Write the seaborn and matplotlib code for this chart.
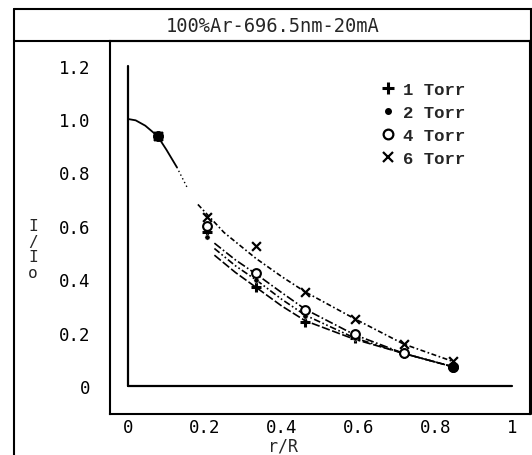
import matplotlib
matplotlib.use("Agg")
import matplotlib.pyplot as plt
from matplotlib.lines import Line2D
import seaborn as sns
import pandas as pd

# ---------------- data ----------------
title = "100%Ar-696.5nm-20mA"
series_labels = ["1 Torr", "2 Torr", "4 Torr", "6 Torr"]

# measured points
r_pts = [0.077, 0.205, 0.333, 0.462, 0.590, 0.718, 0.846]
pts_1torr = [0.936, 0.578, 0.370, 0.241, 0.178, 0.122, 0.072]
pts_2torr = [0.936, 0.558, 0.398, 0.263, 0.180, 0.122, 0.072]
pts_4torr = [0.936, 0.600, 0.423, 0.285, 0.193, 0.122, 0.072]
pts_6torr = [0.936, 0.632, 0.525, 0.352, 0.252, 0.157, 0.092]

# fitted curves
r_common = [0.0, 0.02, 0.045, 0.077, 0.10, 0.127]
curve_common = [1.0, 0.995, 0.975, 0.936, 0.885, 0.820]
r_common_dot = [0.127, 0.156]
curve_common_dot = [0.820, 0.738]

r_fit = [0.225, 0.28, 0.333, 0.40, 0.462, 0.59, 0.718, 0.846]
fit_1torr = [0.490, 0.425, 0.370, 0.300, 0.244, 0.175, 0.122, 0.072]
fit_2torr = [0.515, 0.450, 0.398, 0.325, 0.265, 0.180, 0.122, 0.072]
fit_4torr = [0.535, 0.472, 0.420, 0.350, 0.287, 0.192, 0.122, 0.072]
r_fit6 = [0.182, 0.25, 0.333, 0.40, 0.462, 0.59, 0.718, 0.846]
fit_6torr = [0.680, 0.575, 0.478, 0.410, 0.352, 0.252, 0.157, 0.092]

x_ticks = [0, 0.2, 0.4, 0.6, 0.8, 1.0]
x_ticklabels = ["0", "0.2", "0.4", "0.6", "0.8", "1"]
y_ticks = [0, 0.2, 0.4, 0.6, 0.8, 1.0, 1.2]
y_ticklabels = ["0", "0.2", "0.4", "0.6", "0.8", "1.0", "1.2"]

# ---------------- figure ----------------
sns.set_style("white")
plt.rcParams["font.family"] = ["DejaVu Sans Mono", "DejaVu Sans"]

W, H = 532, 456
fig = plt.figure(figsize=(W / 100, H / 100), dpi=100)
fig.patch.set_facecolor("white")

def fx(px):
    return px / W

def fy(py):
    return 1 - py / H

ax = fig.add_axes([fx(110), fy(415), fx(530) - fx(110), fy(42) - fy(415)])
ax.set_facecolor("white")

# x-axis scale: 0 at px 128, 1 at px 512 ; y: 0 at px 387, 1 at px 120
x0, x1 = 128, 512
y0, y1 = 387, 120
ax.set_xlim((110 - x0) / (x1 - x0), (530 - x0) / (x1 - x0))
ax.set_ylim((y0 - 415) / (y0 - y1), (y0 - 42) / (y0 - y1))

# inner axis lines
ax.plot([0, 0], [0, 1.2], color="black", lw=1.6)
ax.plot([0, 1.0], [0, 0], color="black", lw=1.6)

# common curve
sns.lineplot(x=r_common, y=curve_common, ax=ax, color="black", lw=1.3, sort=False)
sns.lineplot(x=r_common_dot, y=curve_common_dot, ax=ax, color="black", lw=1.0,
             linestyle=(0, (1, 2)), sort=False)

# fitted curves
fits = [
    (r_fit, fit_1torr, (0, (5, 1.5))),
    (r_fit, fit_2torr, (0, (4, 1.5, 1, 1.5, 1, 1.5))),
    (r_fit, fit_4torr, (0, (5, 1.5, 1, 1.5))),
    (r_fit6, fit_6torr, (0, (3, 1.5, 1, 1.5))),
]
for rx, ry, ls in fits:
    sns.lineplot(x=rx, y=ry, ax=ax, color="black", lw=1.2, linestyle=ls, sort=False)

# measured points
mstyles = [
    dict(marker="+", s=60, linewidths=2.2, color="black"),
    dict(marker="o", s=14, color="black"),
    dict(marker="o", s=40, facecolors="white", edgecolors="black", linewidths=1.5),
    dict(marker="x", s=40, linewidths=1.6, color="black"),
]
for ys, st in zip([pts_1torr, pts_2torr, pts_4torr, pts_6torr], mstyles):
    df = pd.DataFrame({"r": r_pts, "v": ys})
    sns.scatterplot(data=df, x="r", y="v", ax=ax, zorder=3, **st)
# overlapped points drawn as filled blobs
ax.scatter([r_pts[0]], [pts_1torr[0]], marker="s", s=28, color="black", zorder=4)
ax.scatter([r_pts[-1]], [pts_1torr[-1]], marker="o", s=45, color="black", zorder=4)

# ticks
ax.set_xticks(x_ticks)
ax.set_xticklabels(x_ticklabels)
ax.set_yticks(y_ticks)
ax.set_yticklabels(y_ticklabels)
ax.set_xticks([0.1, 0.3, 0.5, 0.7, 0.9], minor=True)
ax.set_yticks([0.1, 0.3, 0.5, 0.7, 0.9, 1.1], minor=True)
ax.tick_params(axis="both", which="major", direction="in", length=9, width=1.3,
               labelsize=12.5, colors="black")
ax.tick_params(axis="both", which="minor", direction="in", length=5, width=1.1)
ax.tick_params(axis="y", which="major", pad=14)
ax.tick_params(axis="x", which="major", pad=3)
ax.set_xlabel("")
ax.set_ylabel("")

for side in ["left", "bottom", "right", "top"]:
    ax.spines[side].set_visible(True)
    ax.spines[side].set_color("black")
    ax.spines[side].set_linewidth(1.5)

# legend
handles = [
    Line2D([], [], ls="none", marker="+", ms=9, mew=2.2, color="black"),
    Line2D([], [], ls="none", marker="o", ms=4, color="black"),
    Line2D([], [], ls="none", marker="o", ms=7, mfc="white", mec="black", mew=1.6),
    Line2D([], [], ls="none", marker="x", ms=7, mew=1.6, color="black"),
]
leg = ax.legend(handles, series_labels, loc="upper left",
                bbox_to_anchor=((372 - 110) / 420, (415 - 74) / 373),
                frameon=False, handlelength=0.8, handletextpad=0.5,
                labelspacing=0.45, borderpad=0,
                prop={"family": "Liberation Mono", "weight": "bold", "size": 12.5})

# outer frame and title box
lw = 1.5
fig.add_artist(Line2D([fx(14), fx(14)], [fy(10), 0], color="black", lw=lw))
fig.add_artist(Line2D([fx(14), 1], [fy(10), fy(10)], color="black", lw=lw))
fig.add_artist(Line2D([fx(14), 1], [fy(42), fy(42)], color="black", lw=lw))
fig.add_artist(Line2D([fx(531), fx(531)], [fy(10), fy(415)], color="black", lw=lw))

fig.text(fx(273), fy(26), title, ha="center", va="center", fontsize=13.5,
         family="DejaVu Sans Mono")

# y label (stacked characters) and x label
fig.text(fx(33), fy(250), "I\n/\nI\no", ha="center", va="center", fontsize=11.5,
         family="DejaVu Sans Mono", linespacing=1.05)
fig.text(fx(283), fy(447), "r/R", ha="center", va="center", fontsize=12,
         family="DejaVu Sans Mono")

fig.savefig("out.png", dpi=100, facecolor="white")
